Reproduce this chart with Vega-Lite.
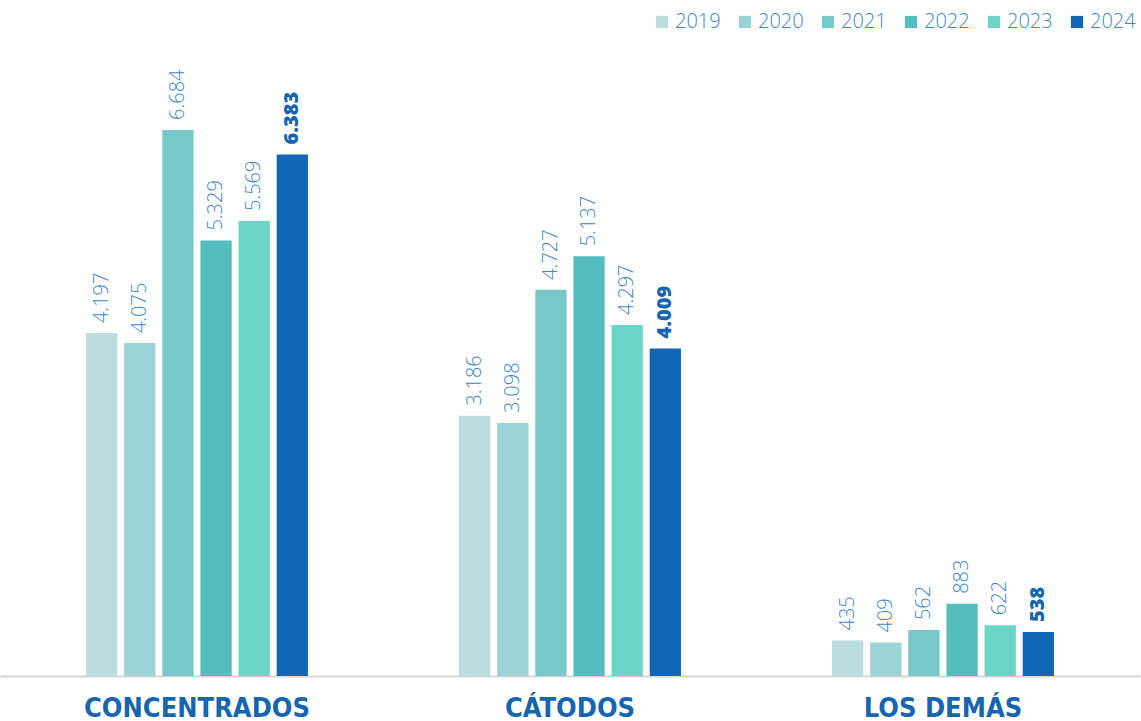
{
  "$schema": "https://vega.github.io/schema/vega-lite/v6.json",
  "width": 1140,
  "height": 676,
  "autosize": "none",
  "padding": {"left": 0, "top": 0, "right": 1, "bottom": 45},
  "background": "white",
  "config": {
    "view": {"stroke": null},
    "locale": {"number": {"decimal": ",", "thousands": ".", "grouping": [3], "currency": ["", ""]}}
  },
  "data": {
    "values": [
      {"cat": "CONCENTRADOS", "year": "2019", "v": 4197},
      {"cat": "CONCENTRADOS", "year": "2020", "v": 4075},
      {"cat": "CONCENTRADOS", "year": "2021", "v": 6684},
      {"cat": "CONCENTRADOS", "year": "2022", "v": 5329},
      {"cat": "CONCENTRADOS", "year": "2023", "v": 5569},
      {"cat": "CONCENTRADOS", "year": "2024", "v": 6383},
      {"cat": "CÁTODOS", "year": "2019", "v": 3186},
      {"cat": "CÁTODOS", "year": "2020", "v": 3098},
      {"cat": "CÁTODOS", "year": "2021", "v": 4727},
      {"cat": "CÁTODOS", "year": "2022", "v": 5137},
      {"cat": "CÁTODOS", "year": "2023", "v": 4297},
      {"cat": "CÁTODOS", "year": "2024", "v": 4009},
      {"cat": "LOS DEMÁS", "year": "2019", "v": 435},
      {"cat": "LOS DEMÁS", "year": "2020", "v": 409},
      {"cat": "LOS DEMÁS", "year": "2021", "v": 562},
      {"cat": "LOS DEMÁS", "year": "2022", "v": 883},
      {"cat": "LOS DEMÁS", "year": "2023", "v": 622},
      {"cat": "LOS DEMÁS", "year": "2024", "v": 538}
    ]
  },
  "encoding": {
    "x": {
      "field": "cat", "type": "nominal", "sort": null,
      "scale": {"paddingInner": 0.405, "paddingOuter": 0.2306},
      "axis": {
        "title": null, "ticks": false, "labelAngle": 0, "labelLimit": 0,
        "domainColor": "#d6d6d6", "domainWidth": 2,
        "labelFont": "'DejaVu Sans Condensed', 'Liberation Sans Narrow', Roboto", "labelFontWeight": "bold",
        "labelFontSize": 27, "labelColor": "#1565b0", "labelPadding": 19
      }
    },
    "xOffset": {"field": "year", "type": "nominal", "scale": {"paddingInner": 0.18, "paddingOuter": 0}},
    "y": {"field": "v", "type": "quantitative", "scale": {"domain": [0, 8274], "nice": false}, "axis": null}
  },
  "layer": [
    {
      "mark": {"type": "bar"},
      "encoding": {
        "color": {
          "field": "year", "type": "nominal",
          "scale": {"domain": ["2019", "2020", "2021", "2022", "2023", "2024"],
                    "range": ["#bcdcdd", "#9cd3d4", "#79c8c8", "#55bdbd", "#6cd5c5", "#1167b5"]},
          "legend": {
            "title": null, "orient": "none", "direction": "horizontal", "columns": 6,
            "legendX": 652, "legendY": 12,
            "symbolType": "square", "symbolSize": 150, "symbolStrokeWidth": 0,
            "labelFont": "Open Sans", "labelFontWeight": 300, "labelFontSize": 20,
            "labelColor": "#3d87c9", "labelOffset": 3, "columnPadding": 14
          }
        }
      }
    },
    {
      "transform": [{"filter": "datum.year != '2024'"}],
      "mark": {"type": "text", "angle": 270, "align": "left", "baseline": "middle", "dx": 10,
               "font": "Open Sans", "fontWeight": 300, "fontSize": 20, "color": "#3d87c9"},
      "encoding": {"text": {"field": "v", "type": "quantitative", "format": ",d"}}
    },
    {
      "transform": [{"filter": "datum.year == '2024'"}],
      "mark": {"type": "text", "angle": 270, "align": "left", "baseline": "middle", "dx": 10,
               "font": "Open Sans", "fontWeight": 800, "fontSize": 20, "color": "#1565b0"},
      "encoding": {"text": {"field": "v", "type": "quantitative", "format": ",d"}}
    }
  ]
}
